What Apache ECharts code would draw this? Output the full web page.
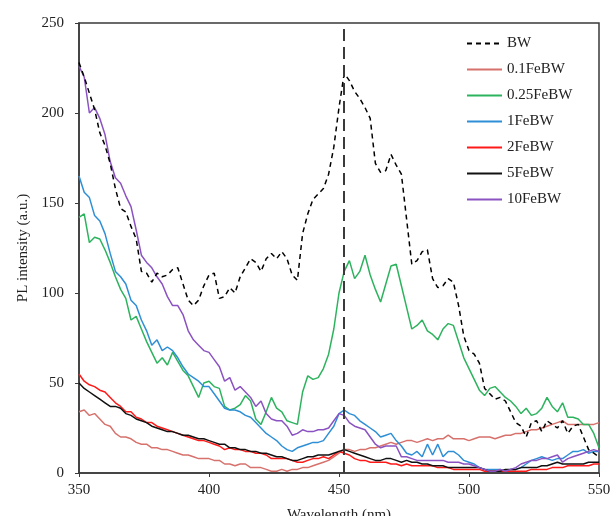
<!DOCTYPE html>
<html>
<head>
<meta charset="utf-8">
<script src="https://cdn.jsdelivr.net/npm/echarts@6/dist/echarts.min.js"></script>
<style>
  html, body { margin: 0; padding: 0; background: #fff; }
  #main { width: 611px; height: 516px; }
</style>
</head>
<body>
<div id="main"></div>
<script>
// wavelength grid (nm), 2 nm step
var wavelength = [];
for (var w = 350; w <= 550; w += 2) wavelength.push(w);

var seriesNames = ['BW', '0.1FeBW', '0.25FeBW', '1FeBW', '2FeBW', '5FeBW', '10FeBW'];
var peakLine = 452;

var bw = [228,220,211,202,189,182,172,158,147,145,137,130,112,111,106,111,109,110,113,114,
  105,96,93,96,104,110,111,97,98,103,100,109,114,119,117,112,119,122,119,123,
  119,110,107,133,144,152,155,158,166,181,203,222,218,212,208,203,197,172,167,168,
  177,171,166,141,116,118,123,124,108,103,104,108,106,93,76,68,66,61,47,44,
  41,42,40,34,28,26,20,28,29,23,29,27,25,29,22,26,27,20,13,11,9];
var fe01 = [34,35,32,33,30,27,26,22,20,20,19,17,16,16,14,14,13,13,12,11,
  10,10,9,8,8,8,7,7,5,5,4,5,5,3,3,3,2,1,1,2,
  1,2,2,3,3,4,5,6,7,9,11,13,13,12,13,13,14,14,15,16,
  17,16,17,18,18,17,18,19,18,19,19,21,19,19,19,18,19,20,20,20,
  19,20,21,21,22,22,23,24,24,25,26,27,28,29,27,27,27,27,27,27,28];
var fe025 = [142,144,128,131,130,124,117,109,102,97,85,87,80,73,67,61,64,60,67,62,
  57,54,48,42,50,51,48,47,37,35,36,38,43,40,30,27,34,42,36,34,
  29,28,27,45,54,52,53,58,66,80,100,112,118,108,112,121,110,102,95,105,
  115,116,104,92,80,82,85,79,77,74,80,83,82,73,64,58,52,46,43,47,
  48,45,42,40,37,33,36,32,33,36,42,37,34,39,31,31,30,27,27,22,14];
var fe1 = [165,156,153,143,140,133,122,112,109,105,96,93,85,79,71,74,68,70,68,64,
  59,55,53,51,48,48,44,40,36,35,35,34,32,31,28,25,22,20,18,15,
  13,12,14,15,16,17,17,18,22,26,33,35,33,32,29,27,25,23,20,21,
  22,18,15,11,10,12,9,16,10,16,9,12,12,10,7,6,5,3,2,2,
  2,2,1,2,2,3,5,7,8,9,8,7,8,8,10,12,12,13,11,12,12];
var fe2 = [55,51,49,48,46,45,42,39,37,34,34,31,30,28,28,26,25,24,23,22,
  21,20,19,18,18,17,16,15,13,14,13,13,12,12,11,11,10,8,8,8,
  8,7,6,6,7,8,8,9,8,10,12,11,10,8,7,7,6,6,6,6,
  5,5,4,5,4,4,4,4,4,3,3,3,2,2,2,2,2,2,1,1,
  1,1,1,1,1,1,1,2,2,2,2,3,3,3,4,4,4,4,4,5,5];
var fe5 = [50,47,45,43,41,39,37,37,36,33,32,30,29,28,26,25,24,23,23,22,
  21,21,20,19,19,18,17,16,16,14,14,13,13,12,12,11,11,10,9,9,
  8,7,7,8,9,9,10,10,10,11,12,13,12,11,10,9,8,7,7,8,
  8,7,6,7,6,6,5,5,4,4,4,3,3,3,3,3,3,3,2,1,
  1,1,2,2,2,3,3,3,3,4,4,5,6,5,5,5,5,5,6,6,6];
var fe10 = [226,220,200,203,197,188,173,164,161,154,148,135,121,117,114,109,105,98,93,93,
  88,79,74,71,68,67,63,59,51,53,46,48,45,42,37,40,33,30,29,29,
  26,21,22,24,23,23,24,24,25,29,33,32,28,26,25,24,20,16,14,15,
  15,15,9,9,8,7,7,7,7,7,7,6,6,6,5,5,4,3,2,1,
  1,2,1,2,3,5,6,7,7,8,8,9,10,6,8,9,10,11,12,13,12];

var seriesData = [bw, fe01, fe025, fe1, fe2, fe5, fe10];
var seriesColors = ['#000000', '#D6716C', '#2DB35E', '#2E8FD6', '#FF1A1A', '#111111', '#8B52C2'];

var fontFam = "'Liberation Serif', 'Times New Roman', serif";
var textColor = '#222222';

function pairs(vals) {
  var out = [];
  for (var i = 0; i < wavelength.length; i++) out.push([wavelength[i], vals[i]]);
  return out;
}

var series = [];
for (var i = 0; i < seriesNames.length; i++) {
  var s = {
    name: seriesNames[i],
    type: 'line',
    symbol: 'none',
    data: pairs(seriesData[i]),
    lineStyle: {
      color: seriesColors[i],
      width: 1.5,
      type: i === 0 ? [5, 4] : 'solid'
    },
    itemStyle: { color: seriesColors[i] },
    z: i === 0 ? 3 : 2
  };
  if (i === 0) {
    s.markLine = {
      silent: true,
      symbol: 'none',
      label: { show: false },
      lineStyle: { color: '#3a3a3a', width: 2, type: [12, 6] },
      data: [{ xAxis: peakLine }]
    };
  }
  series.push(s);
}

var myChart = echarts.init(document.getElementById('main'));
var option = {
  animation: false,
  backgroundColor: '#ffffff',
  grid: {
    left: 79, right: 12, top: 23, bottom: 43,
    outerBoundsMode: 'none',
    containLabel: false,
    show: true,
    borderColor: '#3a3a3a',
    borderWidth: 1.5
  },
  legend: {
    orient: 'vertical',
    left: 461,
    top: 31,
    itemWidth: 35,
    itemHeight: 14,
    itemGap: 11,
    itemStyle: { opacity: 0 },
    data: seriesNames,
    textStyle: { fontFamily: fontFam, fontSize: 15, color: textColor }
  },
  xAxis: {
    type: 'value',
    min: 350,
    max: 550,
    interval: 50,
    name: 'Wavelength (nm)',
    nameLocation: 'middle',
    nameGap: 35,
    nameTextStyle: { fontFamily: fontFam, fontSize: 15, color: textColor },
    axisLine: { lineStyle: { color: '#3a3a3a', width: 1.5 } },
    axisTick: { show: true, length: 4, lineStyle: { color: '#3a3a3a' } },
    axisLabel: { margin: 10, fontFamily: fontFam, fontSize: 15, color: textColor },
    splitLine: { show: false }
  },
  yAxis: {
    type: 'value',
    min: 0,
    max: 250,
    interval: 50,
    name: 'PL intensity (a.u.)',
    nameLocation: 'middle',
    nameGap: 48,
    nameTextStyle: { fontFamily: fontFam, fontSize: 15, color: textColor },
    axisLine: { show: true, lineStyle: { color: '#3a3a3a', width: 1.5 } },
    axisTick: { show: true, length: 4, lineStyle: { color: '#3a3a3a' } },
    axisLabel: { margin: 15, fontFamily: fontFam, fontSize: 15, color: textColor },
    splitLine: { show: false }
  },
  series: series
};
myChart.setOption(option);
</script>
</body>
</html>
